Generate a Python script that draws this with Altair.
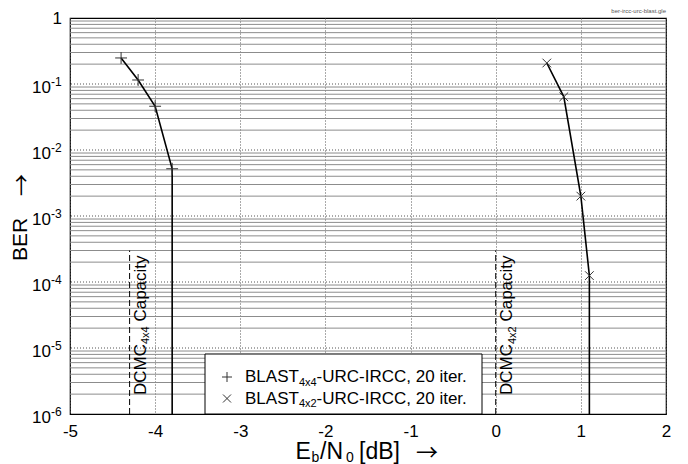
import altair as alt
import pandas as pd

# ---------------- data ----------------
s1_ebn0 = [-4.4, -4.2, -4.0, -3.8, -3.8]
s1_ber = [0.248, 0.115, 0.046, 0.0052, 1e-6]
s2_ebn0 = [0.6, 0.8, 1.0, 1.1, 1.1]
s2_ber = [0.208, 0.064, 0.002, 0.000125, 1e-6]

cap_sub = ["4x4", "4x2"]
cap_x = [-4.3, 0.0]
cap_top = [3e-4, 3e-4]

x_ticks = [-5, -4, -3, -2, -1, 0, 1, 2]
decades = [1, 1e-1, 1e-2, 1e-3, 1e-4, 1e-5, 1e-6]
exponents = ["", "-1", "-2", "-3", "-4", "-5", "-6"]
minor_grid = [m * 10.0 ** e for e in range(-6, 0) for m in range(2, 10)]

legend_labels = ["4x4", "4x2"]

# ---------------- layout ----------------
W, H = 596, 396
FONT = "Liberation Sans, Arial, DejaVu Sans"
ARROW_FONT = "Noto Sans CJK JP, DejaVu Sans"
PLUS = "M-1,0L1,0M0,-1L0,1"
CROSS = "M-1,-1L1,1M-1,1L1,-1"

xs = alt.Scale(domain=[-5, 2], nice=False, zero=False)
ys = alt.Scale(type="log", domain=[1e-6, 1], nice=False)
xaxis = alt.Axis(values=x_ticks, grid=True, gridDash=[1, 2], gridColor="#555555",
                 gridWidth=1, domain=False, ticks=False, labelFontSize=17,
                 labelFont=FONT, labelColor="black", labelPadding=9,
                 labelFlush=False, labelOverlap=False, title=None,
                 labelExpr="(datum.value < 0 ? '-' : '') + abs(datum.value)")

one = pd.DataFrame({"a": [0]})

series = pd.DataFrame({
    "ebn0": s1_ebn0 + s2_ebn0,
    "ber": s1_ber + s2_ber,
    "series": ["s1"] * len(s1_ebn0) + ["s2"] * len(s2_ebn0),
    "idx": list(range(len(s1_ebn0))) + list(range(len(s2_ebn0))),
})
caps = pd.DataFrame({"x": cap_x, "ytop": cap_top, "ybot": [decades[-1]] * 2, "sub": cap_sub})
ylab = pd.DataFrame({"v": decades, "e": exponents})

X = alt.X("ebn0:Q", scale=xs, axis=xaxis)
Y = alt.Y("ber:Q", scale=ys, axis=None)

minor = alt.Chart(pd.DataFrame({"y": minor_grid})).mark_rule(
    color="#8c8c8c", strokeWidth=1).encode(y=alt.Y("y:Q", scale=ys, axis=None))
major = alt.Chart(pd.DataFrame({"y": decades[1:-1]})).mark_rule(
    color="#555555", strokeWidth=1, strokeDash=[1, 2]).encode(y=alt.Y("y:Q", scale=ys, axis=None))

lines = alt.Chart(series).mark_line(color="black", strokeWidth=1.6).encode(
    x=X, y=Y, detail="series:N", order="idx:Q")
pts1 = alt.Chart(series).transform_filter(
    "datum.series == 's1' && datum.ber > 1e-6").mark_point(
    shape=PLUS, filled=False, size=140, strokeWidth=1, color="#333333", opacity=1).encode(x=X, y=Y)
pts2 = alt.Chart(series).transform_filter(
    "datum.series == 's2' && datum.ber > 1e-6").mark_point(
    shape=CROSS, filled=False, size=75, strokeWidth=1, color="#333333", opacity=1).encode(x=X, y=Y)

CX = alt.X("x:Q", scale=xs, axis=xaxis)
cap_rule = alt.Chart(caps).mark_rule(color="black", strokeWidth=1, strokeDash=[6, 3]).encode(
    x=CX, y=alt.Y("ybot:Q", scale=ys, axis=None), y2="ytop:Q")
cap_t1 = alt.Chart(caps).mark_text(text="DCMC", angle=270, align="left", baseline="alphabetic",
                                   fontSize=17, font=FONT, dx=19, dy=16.5, color="black").encode(
    x=CX, y=alt.Y("ybot:Q", scale=ys, axis=None))
cap_t2 = alt.Chart(caps).mark_text(angle=270, align="left", baseline="alphabetic",
                                   fontSize=11, font=FONT, dx=70, dy=19.8, color="black").encode(
    x=CX, y=alt.Y("ybot:Q", scale=ys, axis=None), text="sub:N")
cap_t3 = alt.Chart(caps).mark_text(text="Capacity", angle=270, align="left", baseline="alphabetic",
                                   fontSize=17, font=FONT, dx=92.4, dy=16.5, color="black").encode(
    x=CX, y=alt.Y("ybot:Q", scale=ys, axis=None))

# y tick labels (10 with superscript exponent)
YV = alt.Y("v:Q", scale=ys, axis=None)
ten = alt.Chart(ylab).transform_filter("datum.v < 1").mark_text(
    text="10", align="right", baseline="alphabetic", fontSize=17, font=FONT, dy=9,
    color="black").encode(x=alt.value(-19), y=YV)
expo = alt.Chart(ylab).transform_filter("datum.v < 1").mark_text(
    align="left", baseline="alphabetic", fontSize=12, font=FONT, dy=1.5,
    color="black").encode(x=alt.value(-19), y=YV, text="e:N")
oneLab = alt.Chart(ylab).transform_filter("datum.v == 1").mark_text(
    text="1", align="right", baseline="alphabetic", fontSize=17, font=FONT, dy=6,
    color="black").encode(x=alt.value(-8), y=YV)


def txt(s, x, y, size, angle=0, color="black", font=FONT):
    kw = dict(text=s, align="left", baseline="alphabetic", fontSize=size, font=font, color=color)
    if angle:
        kw["angle"] = angle
    return alt.Chart(one).mark_text(**kw).encode(x=alt.value(x), y=alt.value(y))


# legend box
leg_box = alt.Chart(one).mark_rect(fill="white", stroke="black", strokeWidth=1).encode(
    x=alt.value(135), x2=alt.value(412), y=alt.value(336), y2=alt.value(396))
leg_p = alt.Chart(one).mark_point(shape=PLUS, filled=False, size=100, strokeWidth=1,
                                  color="#333333", opacity=1).encode(x=alt.value(157), y=alt.value(359))
leg_x = alt.Chart(one).mark_point(shape=CROSS, filled=False, size=64, strokeWidth=1,
                                  color="#333333", opacity=1).encode(x=alt.value(157), y=alt.value(380.5))
legend_layers = [leg_box, leg_p, leg_x]
for i, lab in enumerate(legend_labels):
    by = 364.3 + i * 21.7
    legend_layers += [txt("BLAST", 175, by, 17), txt(lab, 228.9, by + 3.3, 11),
                      txt("-URC-IRCC, 20 iter.", 246.6, by, 17)]

# axis titles
titles = [
    txt("E", 225.5, 441, 23), txt("b", 241.5, 444, 14), txt("/N", 250, 441, 23),
    txt("0", 276, 444, 14), txt("[dB]", 289, 441, 23),
    txt("\u2192", 346, 442, 22, font=ARROW_FONT),
    txt("BER", -43, 243, 21, angle=270),
    txt("\u2192", -41, 178, 22, angle=270, font=ARROW_FONT),
    alt.Chart(one).mark_text(text="ber-ircc-urc-blast.gle", align="right", baseline="alphabetic",
                             fontSize=6, font=FONT, color="#555555").encode(
        x=alt.value(596), y=alt.value(-5)),
]

chart = alt.layer(
    minor, major, cap_rule, lines, pts1, pts2, cap_t1, cap_t2, cap_t3,
    ten, expo, oneLab, *legend_layers, *titles
).properties(
    width=W, height=H, autosize="none",
    padding={"left": 62, "top": 10, "right": 14, "bottom": 50},
).configure_view(stroke="black", strokeWidth=1.2)

chart.save("out.html", embed_options={"renderer": "svg", "actions": False})
